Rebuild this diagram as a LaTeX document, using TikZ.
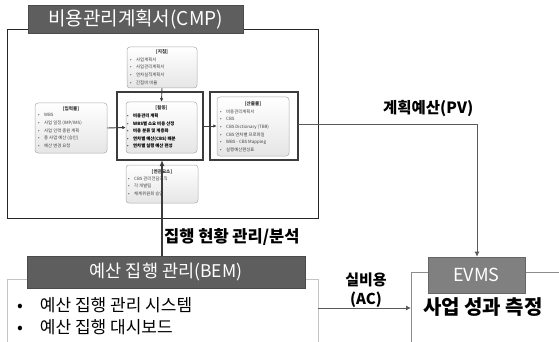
\documentclass[tikz,border=0pt]{standalone}
\usepackage{fontspec}
\setmainfont{Noto Sans CJK KR}
\usetikzlibrary{arrows.meta,shadings}
\definecolor{bandark}{HTML}{5E5E5E}
\definecolor{banmid}{HTML}{808080}
\definecolor{framec}{HTML}{3C3C3C}
\definecolor{arrowc}{HTML}{5A5A5A}
\definecolor{bemline}{HTML}{C4C4C4}
\newcommand{\bl}[1]{•\hspace{4.5pt}#1}
\tikzset{
  banner/.style={draw=#1!80!black, fill=#1, text=white, inner sep=0pt, line width=0.6pt},
  ibox/.style={draw=gray!65, rounded corners=3pt, top color=white, bottom color=gray!20, line width=0.5pt, inner sep=0pt},
  iframe/.style={draw=framec, line width=1.1pt},
  ititle/.style={font=\fontsize{4.6}{5}\selectfont\bfseries, text=black!80, inner sep=0pt},
  ilist/.style={font=\fontsize{4.4}{7.6}\selectfont, text=black!75, align=left, inner sep=0pt, anchor=north west},
  iarrow/.style={draw=framec, line width=0.9pt, -{Latex[length=3.5pt,width=3.5pt]}},
  bigarrow/.style={draw=arrowc, line width=0.9pt, -{Latex[length=5pt,width=5pt]}},
  lbl/.style={font=\fontsize{15}{17}\selectfont\bfseries, inner sep=0pt, align=center},
}
\begin{document}
\begin{tikzpicture}[x=1pt,y=-1pt]
\useasboundingbox (0,0) rectangle (559,342);
\fill[white] (0,0) rectangle (559,342);

% CMP outer box
\draw[black!85, line width=0.9pt] (7,29) rectangle (318,218);
\node[banner=bandark, minimum width=215pt, minimum height=28pt, font=\fontsize{19}{21}\selectfont] (cmp) at (135.5,19) {비용관리계획서(CMP)};

% inner frames
\draw[iframe] (117,92) rectangle (203,160);
\draw[iframe] (210,92) rectangle (298,160);

% 지침
\node[ibox, minimum width=70pt, minimum height=41pt] (jc) at (162,67.5) {};
\node[ititle] (jct) at (162,52) {[지침]};
\node[ilist] (jcl) at (130,57.5) {\bl{사업계획서}\\\bl{사업관리계획서}\\\bl{연차실적계획서}\\\bl{간접비 비율}};

% 입력물
\node[ibox, minimum width=72pt, minimum height=50pt] (in) at (71,128) {};
\node[ititle] (int) at (71,109) {[입력물]};
\node[ilist] (inl) at (38,113.5) {\bl{WBS}\\\bl{사업 일정 (IMP/IMS)}\\\bl{사업 인력 충원 계획}\\\bl{총 사업 예산 (승인)}\\\bl{예산 변경 요청}};

% 활동
\node[ibox, minimum width=71pt, minimum height=51pt] (act) at (161.5,127.5) {};
\node[ititle] (actt) at (161.5,108) {[활동]};
\node[ilist, text=black] (actl) at (127,113.5) {\bl{\bfseries 비용관리 계획}\\\bl{\bfseries WBS별 소요 비용 산정}\\\bl{\bfseries 비용 분류 및 계층화}\\\bl{\bfseries 연차별 예산(CBS) 배분}\\\bl{\bfseries 연차별 실행 예산 편성}};

% 산출물
\node[ibox, minimum width=72pt, minimum height=59pt] (out) at (253,126.5) {};
\node[ititle] (outt) at (253,104) {[산출물]};
\node[ilist] (outl) at (220,109.5) {\bl{비용관리계획서}\\\bl{CBS}\\\bl{CBS Dictionary (TBR)}\\\bl{CBS 연차별 프로파일}\\\bl{WBS - CBS Mapping}\\\bl{실행예산편성표}};

% 연관요소
\node[ibox, minimum width=72pt, minimum height=38pt] (rel) at (162,184) {};
\node[ititle] (relt) at (162,172) {[연관요소]};
\node[ilist] (rell) at (128,176.5) {\bl{CBS 관리전담조직}\\\bl{각 개발팀}\\\bl{체계위원회 승인}};

% inner arrows
\draw[iarrow] (jc.south) -- (act.north);
\draw[iarrow] (in.east) -- (act.west);
\coordinate (actR) at (203,126);
\draw[iarrow] (actR) -- (out.west |- actR);

% BEM
\draw[bemline, line width=0.9pt] (7,342) -- (7,279) -- (318,279) -- (318,342);
\node[banner=bandark, minimum width=278pt, minimum height=32pt, font=\fontsize{17.5}{19}\selectfont] (bem) at (166,272) {예산 집행 관리(BEM)};
\node[font=\fontsize{17}{19}\selectfont, anchor=west, inner sep=0pt] (b1) at (17,305) {•\hspace{17pt}예산 집행 관리 시스템};
\node[font=\fontsize{17}{19}\selectfont, anchor=west, inner sep=0pt] (b2) at (17,327) {•\hspace{17pt}예산 집행 대시보드};

% BEM -> activity
\coordinate (bemUp) at (162,256);
\draw[draw=framec, line width=1.2pt, -{Latex[length=6pt,width=5pt]}] (bemUp) -- (162,160);
\node[lbl, anchor=west, font=\fontsize{16.5}{18}\selectfont\bfseries] (lexec) at (164,237) {집행 현황 관리/분석};

% EVMS
\draw[banmid!90, line width=0.9pt] (411,342) -- (411,272) -- (559,272);
\node[banner=banmid, minimum width=97pt, minimum height=36pt, font=\fontsize{18}{20}\selectfont] (evms) at (476.5,275) {EVMS};
\node[font=\fontsize{20}{22}\selectfont\bfseries, anchor=west, inner sep=0pt] (perf) at (423,307) {사업 성과 측정};

% PV
\coordinate (pvStart) at (298,124);
\coordinate (pvCorner) at (477,124);
\draw[bigarrow] (pvStart) -- (pvCorner) -- (evms.north -| pvCorner);
\node[lbl, anchor=west, font=\fontsize{15.5}{17}\selectfont\bfseries] (lpv) at (383,109) {계획예산(PV)};

% AC
\coordinate (acStart) at (318,308);
\draw[bigarrow] (acStart) -- (411,308);
\node[lbl] (lac1) at (366,280) {실비용};
\node[lbl] (lac2) at (366,300) {(AC)};
\end{tikzpicture}
\end{document}
